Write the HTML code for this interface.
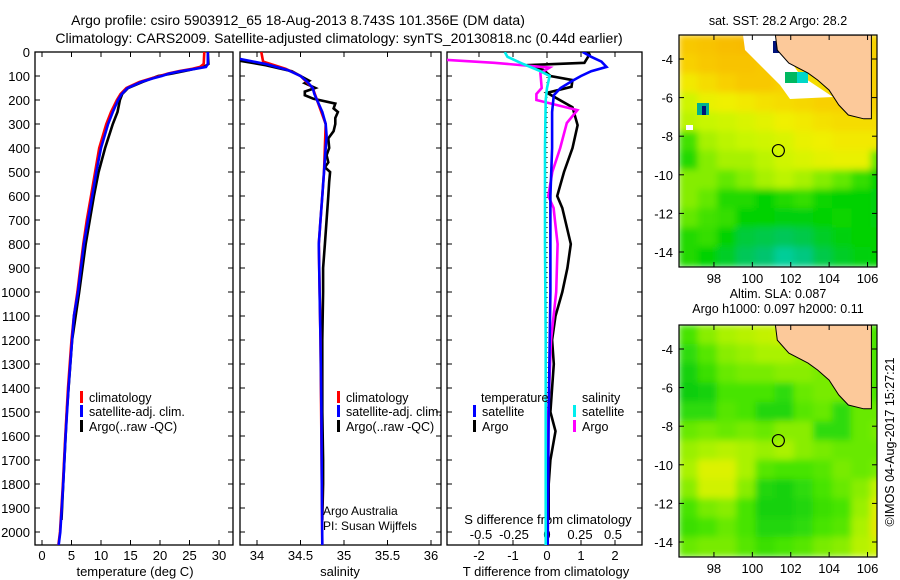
<!DOCTYPE html>
<html><head><meta charset="utf-8"><style>
body{margin:0;background:#fff;}
svg{display:block;font-family:"Liberation Sans",sans-serif;}
</style></head><body>
<svg id="c" width="900" height="580" viewBox="0 0 900 580" xmlns="http://www.w3.org/2000/svg">
<defs>
<filter id="bl" x="0" y="0" width="1" height="1"><feGaussianBlur stdDeviation="3.5" edgeMode="duplicate"/></filter>
<clipPath id="cm1"><rect x="679" y="35" width="198" height="232"/></clipPath>
<clipPath id="cm2"><rect x="679" y="325" width="198" height="232"/></clipPath>
<clipPath id="cp1"><rect x="35" y="52" width="198" height="493"/></clipPath>
<clipPath id="cp2"><rect x="240" y="52" width="201" height="493"/></clipPath>
<clipPath id="cp3"><rect x="447" y="52" width="195" height="493"/></clipPath>
</defs>
<text x="298" y="25" font-size="14" text-anchor="middle">Argo profile: csiro 5903912_65 18-Aug-2013 8.743S 101.356E (DM data)</text>
<text x="339" y="43" font-size="14" text-anchor="middle">Climatology: CARS2009. Satellite-adjusted climatology: synTS_20130818.nc (0.44d earlier)</text>
<g id="g"></g>
</svg>
<script>
// ---- profile data (depth in m) ----
const tDepth=[0,50,62,70,80,90,100,110,125,150,175,200,250,300,400,500,600,700,800,900,1000,1100,1200,1400,1600,1800,2000,2060];
const tSat=[28.1,28.1,27.8,26,23.5,21.5,20.3,18.8,16.8,14.5,13.5,12.9,12.0,11.2,10.0,9.2,8.5,7.8,7.1,6.6,6.1,5.4,5.1,4.5,4.0,3.6,3.1,2.8];
const tClim=[27.5,27.4,26.8,25.5,23.2,21.3,20.0,18.5,16.5,14.3,13.3,12.7,11.7,10.9,9.7,9.0,8.3,7.6,7.0,6.5,6.0,5.4,5.0,4.4,3.95,3.55,3.05,2.75];
const aDepth=[0,50,60,75,90,100,125,150,175,200,250,300,400,500,600,800,1000,1200,1500,1800,1950];
const tArgo=[28.1,28.2,27.6,25,22,19.7,17.0,14.6,13.6,13.2,12.8,12.0,10.7,9.6,8.8,7.4,6.3,5.1,4.2,3.6,3.3];
const sDepth=[0,25,50,75,100,125,150,175,200,250,300,350,400,500,600,700,800,1000,1200,1500,1800,2060];
const sSat=[33.6,33.75,34.1,34.35,34.5,34.58,34.64,34.66,34.69,34.75,34.79,34.8,34.79,34.77,34.75,34.73,34.71,34.72,34.73,34.74,34.745,34.75];
const sClimDepth=[0,40,55,70,100,150,200,300,500,800,1200,1800,2060];
const sClim=[34.05,34.07,34.2,34.33,34.5,34.64,34.69,34.79,34.77,34.71,34.73,34.745,34.75];
const saDepth=[0,30,55,80,100,120,130,150,165,180,195,215,235,250,275,300,330,360,400,430,460,480,500,540,600,700,800,900,1000,1200,1500,1700,1800,1950];
const sArgo=[33.6,33.7,34.1,34.4,34.5,34.6,34.55,34.67,34.55,34.55,34.65,34.9,34.88,34.93,34.9,34.9,34.88,34.82,34.83,34.8,34.82,34.78,34.84,34.83,34.82,34.8,34.78,34.76,34.76,34.75,34.75,34.76,34.76,34.75];
// differences
const dtSatDepth=[0,20,40,62,80,100,120,150,180,250,400,600,1000,1500,2060];
const dtSat=[1.05,1.3,1.6,1.75,1.3,1.0,0.75,0.4,0.2,0.15,0.15,0.1,0.1,0.05,0.02];
const dtArgoDepth=[0,10,45,55,75,100,117,145,170,230,305,400,500,600,650,800,900,1000,1100,1200,1300,1400,1500,1580,1700,1800,1950];
const dtArgo=[1.2,1.25,1.1,-0.6,-0.1,0.1,0.75,0.72,0.0,0.75,0.9,0.75,0.5,0.3,0.45,0.7,0.6,0.45,0.25,0.15,0.2,0.15,0.1,0.25,0.1,0.05,0.05];
const dsSatDepth=[0,20,50,80,100,150,200,400,800,1200,2060];
const dsSat=[-0.32,-0.3,-0.18,-0.05,0.02,0.0,-0.01,-0.015,-0.015,-0.01,-0.01];
const dsArgoDepth=[33,45,65,88,150,175,200,242,296,400,500,600,650,700,800,1000,1150,1200,1500,1950];
const dsArgo=[-0.76,-0.4,0.02,-0.05,-0.04,-0.08,-0.08,0.23,0.15,0.1,0.04,0.01,0.05,0.06,0.08,0.07,0.04,0.03,0.01,0.0];
// ---- map data (1-degree cells, lon from 96.18, lat from -2.76 down) ----
const sstGrid=[
[.88,.9,.92,.93,.9,.85,.8,.8,.8,.8,.85],
[.85,.88,.9,.9,.88,.85,.8,.8,.8,.82,.85],
[.75,.8,.85,.88,.88,.85,.8,.8,.85,.85,.85],
[.62,.7,.72,.75,.78,.8,.82,.85,.85,.85,.85],
[.58,.6,.62,.65,.68,.72,.75,.78,.8,.8,.8],
[.4,.55,.58,.6,.62,.65,.7,.72,.75,.75,.75],
[.35,.5,.55,.55,.58,.62,.65,.68,.7,.7,.45],
[.5,.5,.45,.5,.55,.58,.55,.5,.45,.38,.3],
[.5,.45,.35,.35,.3,.35,.38,.32,.3,.3,.28],
[.45,.4,.38,.3,.3,.28,.28,.3,.32,.3,.28],
[.35,.38,.3,.22,.2,.18,.2,.25,.28,.3,.3],
[.35,.3,.25,.18,.15,.08,.12,.2,.25,.28,.3]];
const slaGrid=[
[.3,.5,.6,.65,.7,.75,.6,.5,.4,.4,.3],
[.2,.35,.5,.55,.6,.6,.55,.5,.45,.4,.3],
[.1,.25,.4,.45,.45,.5,.5,.45,.4,.4,.3],
[.05,.1,.3,.3,.3,.2,.4,.45,.45,.4,.3],
[.2,.2,.35,.3,.15,.15,.35,.4,.2,.4,.4],
[.4,.45,.4,.45,.4,.5,.5,.2,.2,.4,.45],
[.55,.6,.65,.6,.55,.6,.5,.45,.4,.4,.4],
[.6,.8,.8,.6,.35,.3,.3,.35,.45,.4,.45],
[.5,.75,.75,.5,.15,.1,.2,.3,.4,.5,.7],
[.3,.45,.5,.3,.1,.1,.15,.25,.3,.55,.85],
[.25,.3,.4,.3,.15,.15,.2,.3,.35,.6,.9],
[.4,.45,.45,.35,.25,.3,.35,.45,.5,.65,.75]];
const coastLon=[101.2,101.3,101.9,102.9,103.4,104.0,104.5,105.0,105.8,106.2,106.2];
const coastLat=[-2.76,-3.54,-4.21,-4.73,-5.09,-5.61,-6.38,-6.9,-7.1,-7.1,-2.76];
const argoLon=101.356, argoLat=-8.743;
const lonTicks=[98,100,102,104,106], latTicks=[-4,-6,-8,-10,-12,-14];
const depthTicks=[0,100,200,300,400,500,600,700,800,900,1000,1100,1200,1300,1400,1500,1600,1700,1800,1900,2000];
const tTicks=[0,5,10,15,20,25,30], sTicks=[34,34.5,35,35.5,36], dtTicks=[-2,-1,0,1,2], dsTicks=[-0.5,-0.25,0,0.25,0.5];
const dsTickLbl=['-0.5','-0.25','0','0.25','0.5'];

const NS='http://www.w3.org/2000/svg';
const G=document.getElementById('g');
function mk(tag,attrs,parent,txt){const e=document.createElementNS(NS,tag);for(const k in attrs)e.setAttribute(k,attrs[k]);if(txt!==undefined)e.textContent=txt;(parent||G).appendChild(e);return e;}
const yD=d=>52+d*0.24;
const xT=t=>42+5.9*t, xS=s=>257+87*(s-34), xDT=v=>547+34*v, xDS=v=>547+132*v;

function line(depths,vals,fx,color,clip,name,w){
  const pts=depths.map((d,i)=>fx(vals[i]).toFixed(1)+','+yD(d).toFixed(1)).join(' ');
  const e=mk('polyline',{points:pts,fill:'none',stroke:color,'stroke-width':w||2.6,'clip-path':'url(#'+clip+')'});
  
  
}
function frame(x0,x1,name){
  const r=mk('rect',{x:x0,y:52,width:x1-x0,height:493,fill:'none',stroke:'#000','stroke-width':1.3});
  
  
  depthTicks.forEach(d=>{const y=yD(d);mk('line',{x1:x0,x2:x0+5,y1:y,y2:y,stroke:'#000'});mk('line',{x1:x1-5,x2:x1,y1:y,y2:y,stroke:'#000'});});
}
function xticks(ticks,fx,labels,x0,x1,ly){
  ticks.forEach((t,i)=>{const x=fx(t);mk('line',{x1:x,x2:x,y1:545,y2:540,stroke:'#000'});mk('line',{x1:x,x2:x,y1:52,y2:57,stroke:'#000'});
    const tl=mk('text',{x:x,y:ly,'font-size':13,'text-anchor':'middle'},G,labels?labels[i]:String(t));
    
    });
}
// panel 1
frame(35,233,'temperature-panel');
depthTicks.forEach(d=>{const t=mk('text',{x:30,y:yD(d)+5,'font-size':13,'text-anchor':'end'},G,String(d));
  
  });
xticks(tTicks,xT,null,35,233,560);
mk('text',{x:135,y:576,'font-size':13,'text-anchor':'middle',},G,'temperature (deg C)');
line(aDepth,tArgo,xT,'#000','cp1','temp-argo-line');
line(tDepth,tClim,xT,'#f00','cp1','temp-clim-line');
line(tDepth,tSat,xT,'#00f','cp1','temp-sat-line');
// panel 2
frame(240,441,'salinity-panel');
xticks(sTicks,xS,['34','34.5','35','35.5','36'],240,441,560);
mk('text',{x:340,y:576,'font-size':13,'text-anchor':'middle',},G,'salinity');
line(saDepth,sArgo,xS,'#000','cp2','sal-argo-line');
line(sClimDepth,sClim,xS,'#f00','cp2','sal-clim-line');
line(sDepth,sSat,xS,'#00f','cp2','sal-sat-line');
// panel 3
frame(447,642,'difference-panel');
mk('line',{x1:547,x2:547,y1:52,y2:545,stroke:'#000','stroke-dasharray':'1,4',});
dtTicks.forEach(t=>{const x=xDT(t);mk('line',{x1:x,x2:x,y1:545,y2:540,stroke:'#000'});mk('line',{x1:x,x2:x,y1:52,y2:57,stroke:'#000'});
  const tl=mk('text',{x:x,y:560,'font-size':13,'text-anchor':'middle'},G,String(t));
  
  });
dsTicks.forEach((t,i)=>{const tl=mk('text',{x:xDS(t),y:539,'font-size':13,'text-anchor':'middle'},G,dsTickLbl[i]);
  
  });
mk('text',{x:548,y:524,'font-size':13,'text-anchor':'middle',},G,'S difference from climatology');
mk('text',{x:546,y:576,'font-size':13,'text-anchor':'middle',},G,'T difference from climatology');
line(dtArgoDepth,dtArgo,xDT,'#000','cp3','tdiff-argo-line');
line(dsArgoDepth,dsArgo,xDS,'#f0f','cp3','sdiff-argo-line');
line(dtSatDepth,dtSat,xDT,'#00f','cp3','tdiff-sat-line');
line(dsSatDepth,dsSat,xDS,'#0ee','cp3','sdiff-sat-line');
// legends
function leg(x,y,color,txt,name){mk('rect',{x:x,y:y-11,width:3,height:12,fill:color});
  const t=mk('text',{x:x+9,y:y,'font-size':12.5},G,txt);
  
  }
leg(80,402,'#f00','climatology','legend-climatology');
leg(80,416,'#00f','satellite-adj. clim.','legend-satellite');
leg(80,431,'#000','Argo(..raw -QC)','legend-argo');
leg(337,402,'#f00','climatology','legend-climatology-2');
leg(337,416,'#00f','satellite-adj. clim.','legend-satellite-2');
leg(337,431,'#000','Argo(..raw -QC)','legend-argo-2');
mk('text',{x:481,y:402,'font-size':12.5,},G,'temperature');
leg(473,416,'#00f','satellite','legend-t-satellite');
leg(473,431,'#000','Argo','legend-t-argo');
mk('text',{x:582,y:402,'font-size':12.5,},G,'salinity');
leg(573,416,'#0ee','satellite','legend-s-satellite');
leg(573,431,'#f0f','Argo','legend-s-argo');
mk('text',{x:323,y:515,'font-size':12,},G,'Argo Australia');
mk('text',{x:323,y:530,'font-size':12,},G,'PI: Susan Wijffels');

// maps
function lerp(a,b,t){return Math.round(a+(b-a)*t);}
function cmap(stops,v){for(let i=1;i<stops.length;i++){if(v<=stops[i][0]){const a=stops[i-1],b=stops[i],t=(v-a[0])/(b[0]-a[0]);return 'rgb('+lerp(a[1][0],b[1][0],t)+','+lerp(a[1][1],b[1][1],t)+','+lerp(a[1][2],b[1][2],t)+')';}}const l=stops[stops.length-1][1];return 'rgb('+l+')';}
const sstStops=[[0,[0,216,200]],[0.15,[0,196,110]],[0.3,[0,210,0]],[0.45,[100,232,0]],[0.6,[200,246,0]],[0.72,[240,240,0]],[0.85,[248,208,0]],[1,[248,168,0]]];
const slaStops=[[0,[0,200,20]],[0.3,[70,228,0]],[0.6,[170,242,0]],[0.8,[220,242,0]],[1,[240,220,0]]];
function drawMap(oy,grid,stops,clip,title1,title2,name){
  const mx=lon=>679+(lon-96.18)*19.2, my=lat=>oy+59+(-4-lat)*19.3;
  const g=mk('g',{'clip-path':'url(#'+clip+')'});
  
  
  const hg=mk('g',{filter:'url(#bl)'},g);
  grid.forEach((row,r)=>row.forEach((v,c)=>{const x=mx(96.18+c),y=my(-2.76-r);
    const cell=mk('rect',{x:x-0.5,y:y-0.5,width:20.2,height:20.3,fill:cmap(stops,v)},hg);
    
    }));
  if(oy===0){
    mk('polygon',{points:'743,35 783,35 790,60 800,75 833,97 790,99 780,85 760,65 745,50',fill:'#fff'},g);
    mk('rect',{x:773,y:41,width:12,height:12,fill:'#00127a'},g);
    mk('rect',{x:785,y:72,width:12,height:11,fill:'#00b860'},g);
    mk('rect',{x:797,y:72,width:11,height:11,fill:'#00d8c8'},g);
    mk('rect',{x:697,y:103,width:12,height:12,fill:'#00b090'},g);
    mk('rect',{x:702,y:106,width:4,height:9,fill:'#00127a'},g);
    mk('rect',{x:686,y:125,width:7,height:5,fill:'#fff'},g);
  }
  const pts=coastLon.map((lo,i)=>mx(lo).toFixed(1)+','+my(coastLat[i]).toFixed(1)).join(' ');
  const land=mk('polygon',{points:pts,fill:'#fcc99a',stroke:'#000','stroke-width':1},g);
  
  
  const ci=mk('circle',{cx:mx(argoLon),cy:my(argoLat),r:6,fill:'none',stroke:'#000','stroke-width':1.2});
  
  
  mk('rect',{x:679,y:oy+35,width:198,height:232,fill:'none',stroke:'#000','stroke-width':1.2});
  lonTicks.forEach(l=>{const x=mx(l);mk('line',{x1:x,x2:x,y1:oy+267,y2:oy+262,stroke:'#000'});mk('line',{x1:x,x2:x,y1:oy+35,y2:oy+40,stroke:'#000'});
    const t=mk('text',{x:x,y:oy+283,'font-size':13,'text-anchor':'middle'},G,String(l));
    
    });
  latTicks.forEach(l=>{const y=my(l);mk('line',{x1:679,x2:684,y1:y,y2:y,stroke:'#000'});mk('line',{x1:872,x2:877,y1:y,y2:y,stroke:'#000'});
    const t=mk('text',{x:673,y:y+5,'font-size':13,'text-anchor':'end'},G,String(l));
    
    });
  if(title2){mk('text',{x:778,y:oy+8,'font-size':12.5,'text-anchor':'middle'},G,title1);mk('text',{x:778,y:oy+23,'font-size':12.5,'text-anchor':'middle'},G,title2);}
  else mk('text',{x:778,y:oy+25,'font-size':12.5,'text-anchor':'middle'},G,title1);
}
drawMap(0,sstGrid,sstStops,'cm1','sat. SST: 28.2 Argo: 28.2',null,'sst-map');
drawMap(290,slaGrid,slaStops,'cm2','Altim. SLA: 0.087','Argo h1000: 0.097 h2000: 0.11','sla-map');
mk('text',{x:894,y:442,'font-size':12.5,'text-anchor':'middle',transform:'rotate(-90 894 442)',},G,'©IMOS 04-Aug-2017 15:27:21');
</script>
</body></html>
